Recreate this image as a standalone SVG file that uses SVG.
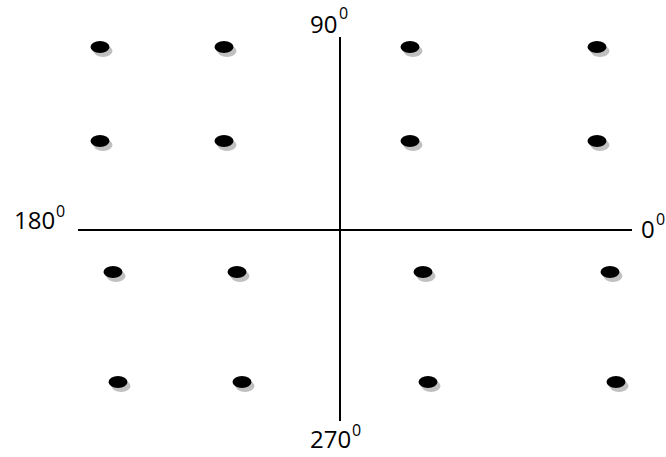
<svg xmlns="http://www.w3.org/2000/svg" xmlns:xlink="http://www.w3.org/1999/xlink" width="666" height="457" viewBox="0 0 666 457">
<style>
.ax{stroke:#000;stroke-width:2;fill:none}
.lbl{font-family:"Open Sans","Liberation Sans",sans-serif;font-size:24px;fill:#000}
.sup{font-family:"Open Sans","Liberation Sans",sans-serif;font-size:16px;fill:#000}
.sh{fill:#c0c0c0}
.dt{fill:#000}
</style>
<defs>
<g id="dot">
<ellipse class="sh" cx="3" cy="4" rx="9.5" ry="6"/>
<ellipse class="dt" cx="0" cy="0" rx="9.5" ry="6"/>
</g>
</defs>
<rect width="666" height="457" fill="#fff"/>
<g id="connectors">
<line class="ax" x1="340" y1="37" x2="340" y2="421"/>
<line class="ax" x1="78" y1="230" x2="632" y2="230"/>
</g>
<g id="label-90"><text class="lbl" x="310" y="33">90</text><text class="sup" x="339" y="19">0</text></g>
<g id="label-180"><text class="lbl" x="14" y="229">180</text><text class="sup" x="56" y="217">0</text></g>
<g id="label-0"><text class="lbl" x="641" y="238">0</text><text class="sup" x="656" y="225">0</text></g>
<g id="label-270"><text class="lbl" x="310" y="448">270</text><text class="sup" x="352" y="436">0</text></g>
<g id="dots">
<use xlink:href="#dot" x="100" y="47"/>
<use xlink:href="#dot" x="224" y="47"/>
<use xlink:href="#dot" x="410" y="47"/>
<use xlink:href="#dot" x="597" y="47"/>
<use xlink:href="#dot" x="100" y="141"/>
<use xlink:href="#dot" x="224" y="141"/>
<use xlink:href="#dot" x="410" y="141"/>
<use xlink:href="#dot" x="597" y="141"/>
<use xlink:href="#dot" x="113" y="272"/>
<use xlink:href="#dot" x="237" y="272"/>
<use xlink:href="#dot" x="423" y="272"/>
<use xlink:href="#dot" x="610" y="272"/>
<use xlink:href="#dot" x="118" y="382"/>
<use xlink:href="#dot" x="242" y="382"/>
<use xlink:href="#dot" x="428" y="382"/>
<use xlink:href="#dot" x="616" y="382"/>
</g>
</svg>
